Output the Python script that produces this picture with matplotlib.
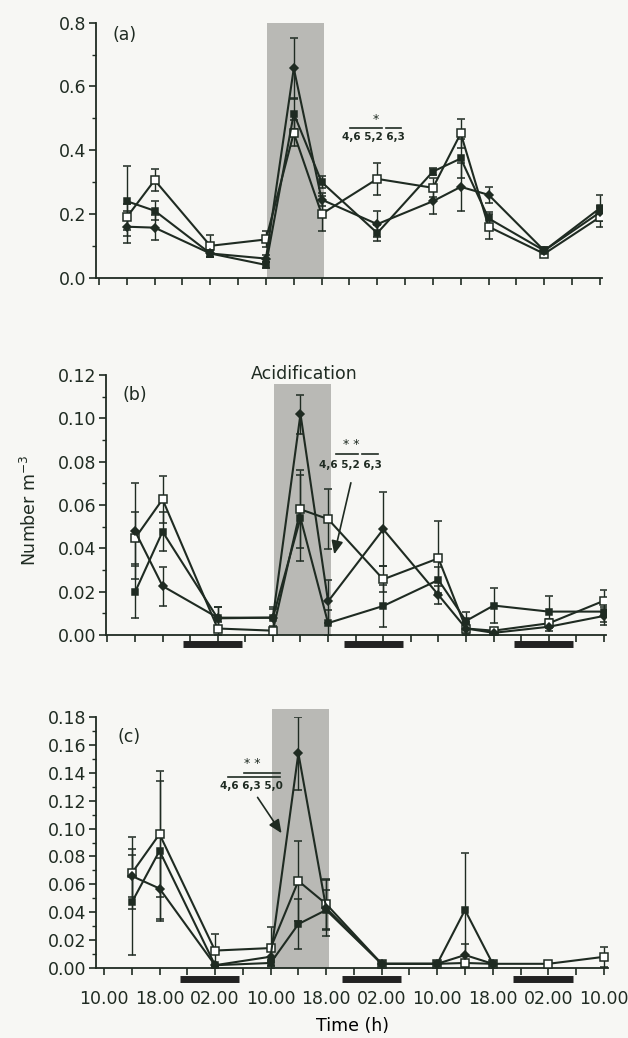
import numpy as np
import matplotlib
matplotlib.use("Agg")
import matplotlib.pyplot as plt
from matplotlib.ticker import MultipleLocator, FormatStrFormatter
import matplotlib.transforms as mtransforms

# sampling times, hours after first 10.00
hours = [4, 8, 16, 24, 28, 32, 40, 48, 52, 56, 64, 72]
tick_hours = [0, 8, 16, 24, 32, 40, 48, 56, 64, 72]
tick_labels = ["10.00", "18.00", "02.00", "10.00", "18.00", "02.00", "10.00", "18.00", "02.00", "10.00"]
acid_start, acid_end = 24.2, 32.4
night_start = [11.0, 34.3, 58.9]
night_end = [19.5, 42.8, 67.5]

# (a)
a_open = [0.19, 0.306, 0.10, 0.12, 0.454, 0.20, 0.31, 0.282, 0.453, 0.16, 0.075, 0.19]
a_open_err = [0.04, 0.035, 0.035, 0.025, 0.04, 0.055, 0.05, 0.03, 0.045, 0.04, 0.01, 0.03]
a_fill = [0.24, 0.21, 0.076, 0.04, 0.515, 0.30, 0.14, 0.333, 0.374, 0.186, 0.085, 0.218]
a_fill_err = [0.11, 0.03, 0.01, 0.01, 0.05, 0.02, 0.025, 0.01, 0.06, 0.02, 0.01, 0.04]
a_dia = [0.16, 0.157, 0.076, 0.06, 0.657, 0.245, 0.168, 0.24, 0.285, 0.26, 0.085, 0.205]
a_dia_err = [0.05, 0.04, 0.01, 0.01, 0.095, 0.02, 0.04, 0.04, 0.075, 0.025, 0.01, 0.02]

# (b)
b_open = [0.0446, 0.0626, 0.003, 0.002, 0.058, 0.0535, 0.0257, 0.0354, 0.003, 0.002, 0.0054, 0.0158]
b_open_err = [0.012, 0.011, 0.003, 0.0, 0.018, 0.014, 0.006, 0.017, 0.002, 0.0, 0.002, 0.005]
b_fill = [0.0197, 0.0477, 0.0077, 0.008, 0.054, 0.0055, 0.0134, 0.0254, 0.0065, 0.0136, 0.0108, 0.0108]
b_fill_err = [0.012, 0.009, 0.005, 0.005, 0.02, 0.006, 0.0095, 0.006, 0.004, 0.008, 0.007, 0.005]
b_dia = [0.048, 0.0226, 0.008, 0.008, 0.102, 0.0155, 0.0488, 0.0185, 0.003, 0.001, 0.0038, 0.0088]
b_dia_err = [0.022, 0.009, 0.005, 0.004, 0.009, 0.01, 0.017, 0.004, 0.003, 0.001, 0.002, 0.004]

# (c)
c_open = [0.068, 0.096, 0.0125, 0.0143, 0.0624, 0.0459, 0.003, 0.003, 0.0036, 0.003, 0.003, 0.008]
c_open_err = [0.026, 0.045, 0.012, 0.015, 0.029, 0.018, 0.0, 0.0, 0.0, 0.0, 0.0, 0.007]
c_fill = [0.047, 0.084, 0.002, 0.0036, 0.0315, 0.0416, 0.003, 0.003, 0.0416, 0.003, np.nan, np.nan]
c_fill_err = [0.038, 0.05, 0.0, 0.002, 0.018, 0.014, 0.0, 0.0, 0.041, 0.0, 0.0, 0.0]
c_dia = [0.066, 0.057, 0.002, 0.0081, 0.154, 0.043, 0.003, 0.003, 0.0093, 0.003, np.nan, np.nan]
c_dia_err = [0.015, 0.022, 0.0, 0.004, 0.026, 0.02, 0.0, 0.0, 0.008, 0.0, 0.0, 0.0]

ink = "#1f2b22"
bg = "#f7f7f4"
shade = "#b9b9b5"
plt.rcParams["font.family"] = ["DejaVu Sans"]
plt.rcParams["text.color"] = ink
plt.rcParams["axes.edgecolor"] = ink
plt.rcParams["xtick.color"] = ink
plt.rcParams["ytick.color"] = ink

fig = plt.figure(figsize=(6.28, 10.38), dpi=100, facecolor=bg)

W, H = 628.0, 1038.0


def make_axes(left, right, top, bottom):
    return fig.add_axes([left / W, 1 - bottom / H, (right - left) / W, (bottom - top) / H])


def draw_panel(ax, series, ymax, ymajor, fmt, xlim, shade_top, nights):
    ax.set_facecolor("none")
    ax.axvspan(acid_start, acid_end, ymin=0, ymax=shade_top, color=shade, lw=0, zorder=0, clip_on=False)
    for y, err, marker, face, ms in series:
        ax.errorbar(hours, y, yerr=err, color=ink, lw=1.5, elinewidth=1.0, capsize=3,
                    capthick=1.0, marker=marker, ms=ms, mfc=face, mec=ink, mew=1.1, zorder=3)
    ax.set_xlim(*xlim)
    ax.set_ylim(0, ymax)
    ax.yaxis.set_major_locator(MultipleLocator(ymajor))
    ax.yaxis.set_minor_locator(MultipleLocator(ymajor / 2))
    ax.yaxis.set_major_formatter(FormatStrFormatter(fmt))
    ax.set_xticks(range(0, 73, 4))
    ax.set_xticklabels([])
    ax.tick_params(axis="both", direction="out", length=5, width=1.2, labelsize=12.5, pad=2)
    ax.tick_params(axis="y", which="minor", direction="out", length=3, width=1.0)
    for s in ["top", "right"]:
        ax.spines[s].set_visible(False)
    for s in ["left", "bottom"]:
        ax.spines[s].set_linewidth(1.3)
    if nights:
        trans = mtransforms.blended_transform_factory(ax.transData, ax.transAxes)
        for x0, x1 in zip(night_start, night_end):
            ax.plot([x0, x1], [nights, nights], color="#222222", lw=5, transform=trans,
                    clip_on=False, solid_capstyle="butt")


series_a = [(a_open, a_open_err, "s", "white", 5.5),
            (a_fill, a_fill_err, "s", ink, 5.0),
            (a_dia, a_dia_err, "D", ink, 4.5)]
series_b = [(b_open, b_open_err, "s", "white", 5.5),
            (b_fill, b_fill_err, "s", ink, 5.0),
            (b_dia, b_dia_err, "D", ink, 4.5)]
series_c = [(c_open, c_open_err, "s", "white", 5.5),
            (c_fill, c_fill_err, "s", ink, 5.0),
            (c_dia, c_dia_err, "D", ink, 4.5)]

# panel (a)
ax1 = make_axes(96, 602, 22.7, 277.7)
draw_panel(ax1, series_a, 0.8, 0.2, "%.1f", (-0.43, 72.3), 1.0, None)
ax1.text(0.057, 0.952, "(a)", transform=ax1.transAxes, fontsize=12.5, ha="center", va="center")
ax1.text(39.8, 0.495, "*", fontsize=9, ha="center", va="center")
ax1.plot([36.1, 40.7], [0.47, 0.47], color=ink, lw=1.2)
ax1.plot([41.2, 43.4], [0.47, 0.47], color=ink, lw=1.2)
ax1.text(39.4, 0.441, "4,6 5,2 6,3", fontsize=7.5, fontweight="bold", ha="center", va="center")

# panel (b)
ax2 = make_axes(106, 606, 375, 635)
draw_panel(ax2, series_b, 0.12, 0.02, "%.2f", (-0.2, 72.3), 0.116 / 0.12, -0.035)
ax2.text(0.058, 0.923, "(b)", transform=ax2.transAxes, fontsize=12.5, ha="center", va="center")
ax2.text(28.5, 0.1205, "Acidification", fontsize=12.5, ha="center", va="center")
ax2.text(35.3, 0.0880, "* *", fontsize=9, ha="center", va="center")
ax2.plot([33.1, 36.3], [0.0835, 0.0835], color=ink, lw=1.2)
ax2.plot([36.9, 39.2], [0.0835, 0.0835], color=ink, lw=1.2)
ax2.text(35.2, 0.0785, "4,6 5,2 6,3", fontsize=7.5, fontweight="bold", ha="center", va="center")
ax2.annotate("", xy=(32.8, 0.036), xytext=(35.4, 0.0715),
             arrowprops=dict(arrowstyle="-|>,head_length=0.8,head_width=0.35", color=ink, lw=1.2))

# panel (c)
ax3 = make_axes(96, 608, 717, 968)
draw_panel(ax3, series_c, 0.18, 0.02, "%.2f", (-1.15, 72.6), 0.186 / 0.18, -0.045)
ax3.set_xticks(range(0, 73, 4))
ax3.set_xticklabels([tick_labels[tick_hours.index(h)] if h in tick_hours else "" for h in range(0, 73, 4)])
ax3.tick_params(axis="x", pad=11, labelsize=12.5)
ax3.text(0.064, 0.92, "(c)", transform=ax3.transAxes, fontsize=12.5, ha="center", va="center")
ax3.text(21.3, 0.1465, "* *", fontsize=9, ha="center", va="center")
ax3.plot([17.9, 25.4], [0.1370, 0.1370], color=ink, lw=1.2)
ax3.plot([20.2, 25.4], [0.1395, 0.1395], color=ink, lw=1.2)
ax3.text(21.3, 0.1305, "4,6 6,3 5,0", fontsize=7.5, fontweight="bold", ha="center", va="center")
ax3.annotate("", xy=(25.8, 0.095), xytext=(21.9, 0.124),
             arrowprops=dict(arrowstyle="-|>,head_length=0.8,head_width=0.35", color=ink, lw=1.2))
ax3.set_xlabel("Time (h)", fontsize=12.5, labelpad=6)

fig.text(30 / W, 1 - 510 / H, "Number m$^{-3}$", rotation=90, fontsize=12.5, ha="center", va="center")

fig.savefig("out.png", dpi=100, facecolor=bg)
